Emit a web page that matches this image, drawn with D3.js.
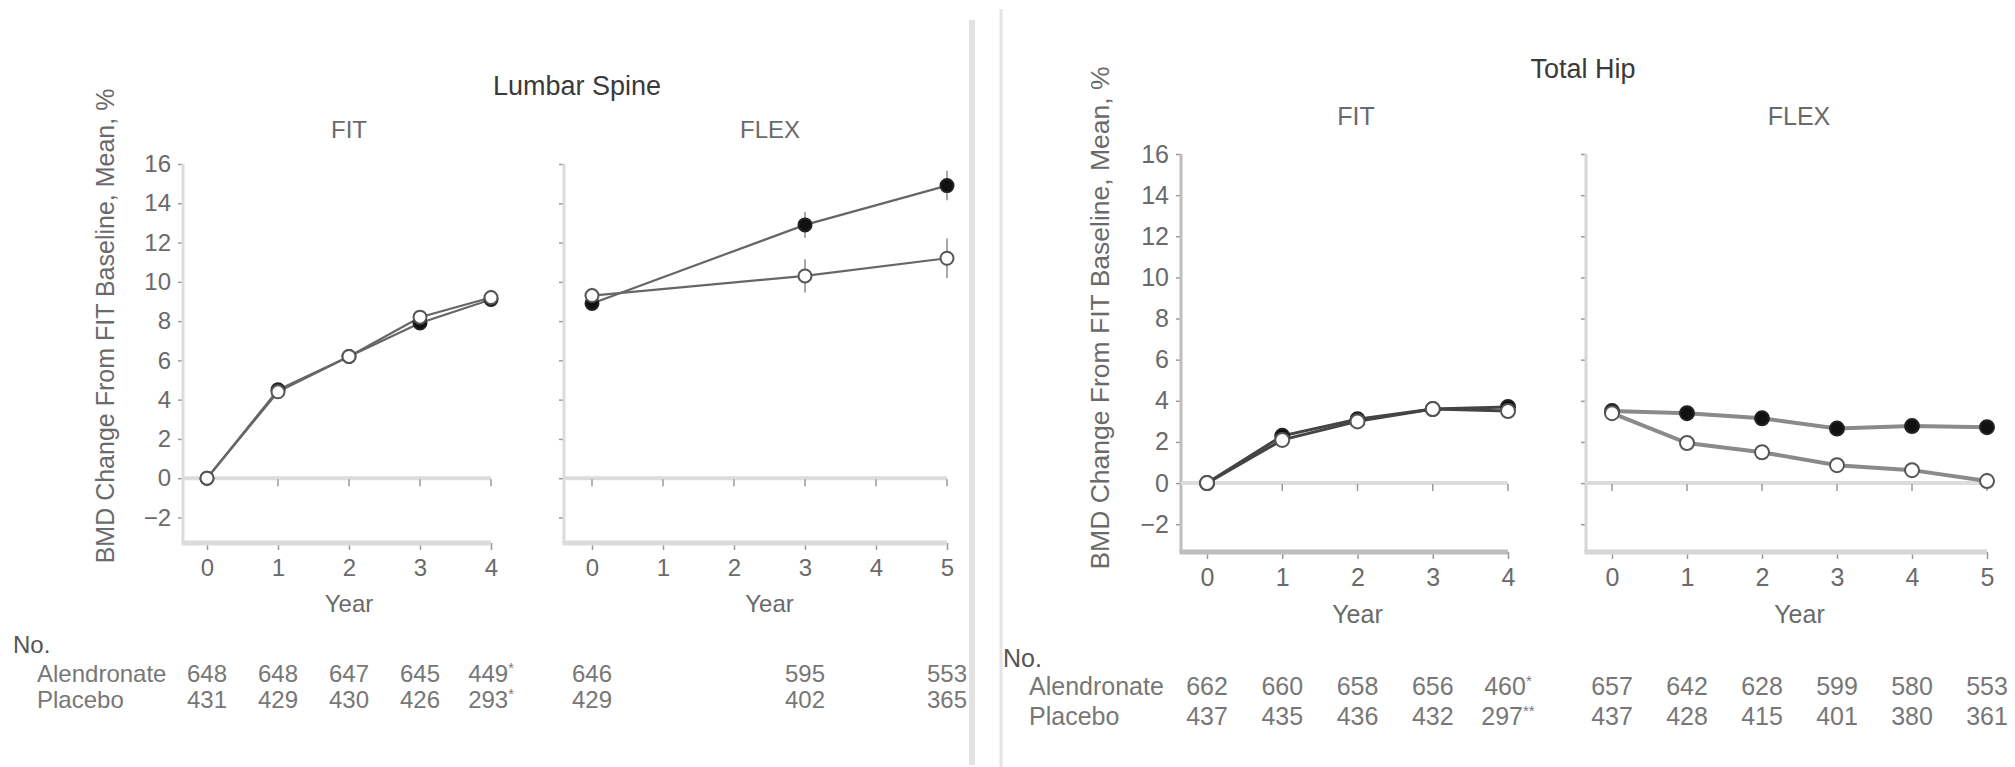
<!DOCTYPE html>
<html>
<head>
<meta charset="utf-8">
<script src="https://cdn.jsdelivr.net/npm/d3@7"></script>
<style>
  html, body { margin: 0; padding: 0; background: #fff; }
  svg { display: block; font-family: "Liberation Sans", Arial, sans-serif; }
</style>
</head>
<body>
<svg id="chart" width="2015" height="767"></svg>
<script>
// ---------------- DATA ----------------
const yTickValues = [-2, 0, 2, 4, 6, 8, 10, 12, 14, 16];
const fitTickYears = [0, 1, 2, 3, 4];
const flexTickYears = [0, 1, 2, 3, 4, 5];

// Lumbar spine
const lsFitYears = [0, 1, 2, 3, 4];
const lsFitAln = [0, 4.5, 6.2, 7.9, 9.1];
const lsFitPla = [0, 4.4, 6.2, 8.2, 9.2];
const lsFitAlnErr = [0, 0.25, 0.25, 0.3, 0.35];
const lsFitPlaErr = [0, 0.3, 0.3, 0.35, 0.4];
const lsFlexYears = [0, 3, 5];
const lsFlexAln = [8.9, 12.9, 14.9];
const lsFlexPla = [9.3, 10.3, 11.2];
const lsFlexAlnErr = [0.35, 0.65, 0.75];
const lsFlexPlaErr = [0.4, 0.85, 1.0];

// Total hip
const thFitYears = [0, 1, 2, 3, 4];
const thFitAln = [0, 2.3, 3.1, 3.6, 3.7];
const thFitPla = [0, 2.1, 3.0, 3.6, 3.5];
const thFitAlnErr = [0, 0.15, 0.15, 0.15, 0.2];
const thFitPlaErr = [0, 0.15, 0.15, 0.15, 0.2];
const thFlexYears = [0, 1, 2, 3, 4, 5];
const thFlexAln = [3.5, 3.4, 3.15, 2.65, 2.77, 2.72];
const thFlexPla = [3.4, 1.95, 1.5, 0.87, 0.63, 0.1];
const thFlexAlnErr = [0.2, 0.25, 0.3, 0.3, 0.3, 0.3];
const thFlexPlaErr = [0.2, 0.3, 0.3, 0.35, 0.35, 0.4];

// Numbers at risk
const lsFitAlnN = ["648", "648", "647", "645", "449*"];
const lsFitPlaN = ["431", "429", "430", "426", "293*"];
const lsFlexNYears = [0, 3, 5];
const lsFlexAlnN = ["646", "595", "553"];
const lsFlexPlaN = ["429", "402", "365"];
const thFitAlnN = ["662", "660", "658", "656", "460*"];
const thFitPlaN = ["437", "435", "436", "432", "297**"];
const thFlexAlnN = ["657", "642", "628", "599", "580", "553"];
const thFlexPlaN = ["437", "428", "415", "401", "380", "361"];

const yLabel = "BMD Change From FIT Baseline, Mean, %";

// ---------------- DRAW ----------------
const svg = d3.select("#chart");

// divider lines
svg.append("line").attr("x1", 972).attr("x2", 972).attr("y1", 20).attr("y2", 765)
  .attr("stroke", "#e2e2e2").attr("stroke-width", 6);
svg.append("line").attr("x1", 1001).attr("x2", 1001).attr("y1", 9).attr("y2", 767)
  .attr("stroke", "#e4e4e4").attr("stroke-width", 3);

function drawPanel(o) {
  const g = svg.append("g");
  const x = d3.scaleLinear().domain(o.xDomain).range(o.xRange);
  const y = d3.scaleLinear().domain(o.yDomain).range(o.yRange);
  const xEnd = x(o.tickYears[o.tickYears.length - 1]);
  const yBottom = o.yRange[0];

  // y axis
  const yAx = g.append("g").attr("transform", `translate(${o.axisX},0)`)
    .call(d3.axisLeft(y).tickValues(yTickValues).tickSize(5).tickPadding(7)
      .tickFormat(o.showYLabels ? d => (d < 0 ? "\u2212" + Math.abs(d) : d) : () => ""));
  yAx.select(".domain").remove();
  yAx.selectAll(".tick line").attr("stroke", "#9a9a9a").attr("stroke-width", 1.5);
  yAx.selectAll(".tick text").attr("fill", "#6a6a6a").attr("font-size", o.fs)
    .attr("font-family", "Liberation Sans, Arial, sans-serif");
  g.append("line").attr("x1", o.axisX).attr("x2", o.axisX)
    .attr("y1", y(16)).attr("y2", yBottom)
    .attr("stroke", o.axisColor).attr("stroke-width", 3);

  // zero reference line with ticks
  g.append("line").attr("x1", o.axisX).attr("x2", xEnd)
    .attr("y1", y(0)).attr("y2", y(0))
    .attr("stroke", "#dcdcdc").attr("stroke-width", 4);
  g.selectAll(".zt").data(o.tickYears).enter().append("line")
    .attr("x1", d => x(d)).attr("x2", d => x(d))
    .attr("y1", y(0) + 1).attr("y2", y(0) + 8)
    .attr("stroke", "#9a9a9a").attr("stroke-width", 1.5);

  // bottom axis
  const xAx = g.append("g").attr("transform", `translate(0,${yBottom})`)
    .call(d3.axisBottom(x).tickValues(o.tickYears).tickSize(7).tickPadding(o.tickPad).tickFormat(d3.format("d")));
  xAx.select(".domain").remove();
  xAx.selectAll(".tick line").attr("stroke", "#9a9a9a").attr("stroke-width", 1.5);
  xAx.selectAll(".tick text").attr("fill", "#6a6a6a").attr("font-size", o.fs)
    .attr("font-family", "Liberation Sans, Arial, sans-serif");
  g.append("line").attr("x1", o.axisX - 1.5).attr("x2", xEnd)
    .attr("y1", yBottom).attr("y2", yBottom)
    .attr("stroke", o.axisColor).attr("stroke-width", 5);

  // Year label
  g.append("text").attr("x", x(o.xLabelCenter)).attr("y", o.yearY)
    .attr("text-anchor", "middle").attr("font-size", o.fs).attr("fill", "#6a6a6a").text("Year");

  // panel title
  g.append("text").attr("x", o.titleX).attr("y", o.titleY)
    .attr("text-anchor", "middle").attr("font-size", o.fs).attr("fill", "#6a6a6a").text(o.title);

  // series
  const line = d3.line().x(d => x(d.t)).y(d => y(d.v));
  o.series.forEach(s => {
    const pts = s.years.map((t, i) => ({ t, v: s.values[i], e: s.err[i] }));
    g.append("path").datum(pts).attr("d", line).attr("fill", "none")
      .attr("stroke", o.lineColor).attr("stroke-width", o.lineWidth);
    s.pts = pts;
  });
  o.series.forEach(s => {
    g.selectAll(null).data(s.pts.filter(d => d.e > 0)).enter().append("line")
      .attr("x1", d => x(d.t)).attr("x2", d => x(d.t))
      .attr("y1", d => y(d.v - d.e)).attr("y2", d => y(d.v + d.e))
      .attr("stroke", "#8a8a8a").attr("stroke-width", 1.5);
  });
  o.series.forEach(s => {
    g.selectAll(null).data(s.pts).enter().append("circle")
      .attr("cx", d => x(d.t)).attr("cy", d => y(d.v)).attr("r", o.r)
      .attr("fill", s.filled ? "#111" : "#fff")
      .attr("stroke", s.filled ? "#222" : "#555").attr("stroke-width", 2);
  });

  // numbers at risk
  o.table.forEach(row => {
    g.selectAll(null).data(row.years).enter().append("text")
      .attr("x", d => x(d)).attr("y", row.y).attr("text-anchor", "middle")
      .attr("font-size", o.fs).attr("fill", "#777")
      .each(function (d, i) {
        const txt = row.values[i];
        const m = txt.match(/^(\d+)(\**)$/);
        const t = d3.select(this);
        t.append("tspan").text(m[1]);
        if (m[2]) t.append("tspan").attr("font-size", o.fs * 0.6).attr("dy", -9).text(m[2]);
      });
  });
  return { x, y };
}

function section(o) {
  svg.append("text").attr("x", o.titleX).attr("y", o.titleY).attr("text-anchor", "middle")
    .attr("font-size", o.titleFs).attr("fill", "#3a3a3a").text(o.title);
  svg.append("text").attr("transform", `translate(${o.ylx},${o.yly}) rotate(-90)`)
    .attr("text-anchor", "middle").attr("dominant-baseline", "central")
    .attr("font-size", o.ylFs).attr("fill", "#6a6a6a").text(yLabel);
  svg.append("text").attr("x", o.noX).attr("y", o.noY).attr("font-size", o.fs).attr("fill", "#555").text("No.");
  svg.append("text").attr("x", o.rowX).attr("y", o.alnY).attr("font-size", o.fs).attr("fill", "#777").text("Alendronate");
  svg.append("text").attr("x", o.rowX).attr("y", o.plaY).attr("font-size", o.fs).attr("fill", "#777").text("Placebo");
}

// ---- Lumbar spine ----
section({ title: "Lumbar Spine", titleX: 577, titleY: 95, titleFs: 27,
  ylx: 105, yly: 326, ylFs: 25, fs: 24, noX: 13, noY: 653, rowX: 37, alnY: 682, plaY: 708 });

drawPanel({
  title: "FIT", titleX: 349, titleY: 138, fs: 24,
  xDomain: [0, 4], xRange: [207, 491], yDomain: [-3.3, 16], yRange: [543, 164],
  axisX: 183, tickYears: fitTickYears, showYLabels: true, tickPad: 9, yearY: 612, xLabelCenter: 2,
  axisColor: "#dcdcdc", lineColor: "#666", lineWidth: 2.2, r: 6.5,
  series: [
    { years: lsFitYears, values: lsFitAln, err: lsFitAlnErr, filled: true },
    { years: lsFitYears, values: lsFitPla, err: lsFitPlaErr, filled: false }
  ],
  table: [
    { years: fitTickYears, values: lsFitAlnN, y: 682 },
    { years: fitTickYears, values: lsFitPlaN, y: 708 }
  ]
});
drawPanel({
  title: "FLEX", titleX: 770, titleY: 138, fs: 24,
  xDomain: [0, 5], xRange: [592, 947], yDomain: [-3.3, 16], yRange: [543, 164],
  axisX: 564, tickYears: flexTickYears, showYLabels: false, tickPad: 9, yearY: 612, xLabelCenter: 2.5,
  axisColor: "#dcdcdc", lineColor: "#666", lineWidth: 2.2, r: 6.5,
  series: [
    { years: lsFlexYears, values: lsFlexAln, err: lsFlexAlnErr, filled: true },
    { years: lsFlexYears, values: lsFlexPla, err: lsFlexPlaErr, filled: false }
  ],
  table: [
    { years: lsFlexNYears, values: lsFlexAlnN, y: 682 },
    { years: lsFlexNYears, values: lsFlexPlaN, y: 708 }
  ]
});

// ---- Total hip ----
section({ title: "Total Hip", titleX: 1583, titleY: 78, titleFs: 27,
  ylx: 1100, yly: 318, ylFs: 26.5, fs: 25, noX: 1003, noY: 667, rowX: 1029, alnY: 695, plaY: 725 });

drawPanel({
  title: "FIT", titleX: 1356, titleY: 125, fs: 25,
  xDomain: [0, 4], xRange: [1207, 1508], yDomain: [-3.35, 16], yRange: [552, 154],
  axisX: 1181, tickYears: fitTickYears, showYLabels: true, tickPad: 9, yearY: 623, xLabelCenter: 2,
  axisColor: "#bdbdbd", lineColor: "#444", lineWidth: 3, r: 7,
  series: [
    { years: thFitYears, values: thFitAln, err: thFitAlnErr, filled: true },
    { years: thFitYears, values: thFitPla, err: thFitPlaErr, filled: false }
  ],
  table: [
    { years: fitTickYears, values: thFitAlnN, y: 695 },
    { years: fitTickYears, values: thFitPlaN, y: 725 }
  ]
});
drawPanel({
  title: "FLEX", titleX: 1799, titleY: 125, fs: 25,
  xDomain: [0, 5], xRange: [1612, 1987], yDomain: [-3.35, 16], yRange: [552, 154],
  axisX: 1586, tickYears: flexTickYears, showYLabels: false, tickPad: 9, yearY: 623, xLabelCenter: 2.5,
  axisColor: "#d6d6d6", lineColor: "#8a8a8a", lineWidth: 4, r: 7,
  series: [
    { years: thFlexYears, values: thFlexAln, err: thFlexAlnErr, filled: true },
    { years: thFlexYears, values: thFlexPla, err: thFlexPlaErr, filled: false }
  ],
  table: [
    { years: flexTickYears, values: thFlexAlnN, y: 695 },
    { years: flexTickYears, values: thFlexPlaN, y: 725 }
  ]
});
</script>
</body>
</html>
